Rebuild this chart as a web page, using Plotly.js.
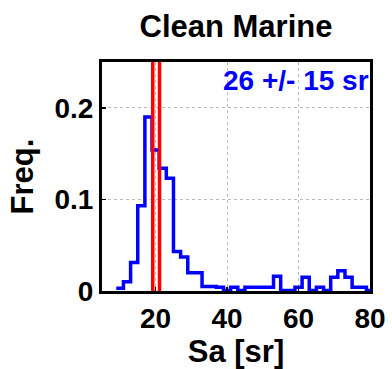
<!DOCTYPE html>
<html>
<head>
<meta charset="utf-8">
<script src="https://cdn.plot.ly/plotly-3.0.1.min.js"></script>
<style>html,body{margin:0;padding:0;background:#fff;}#chart{width:392px;height:369px;}</style>
</head>
<body>
<div id="chart"></div>
<script>
// Histogram bin left edges (Sa, sr) and frequencies
const binLeft = [9, 11, 13, 15, 17, 19, 21, 23, 25, 27, 29, 31, 33, 35, 37, 39, 41, 43, 45, 47, 49, 51, 53, 55, 57, 59, 61, 63, 65, 67, 69, 71, 73, 75, 77, 79];
const freq    = [0.003, 0.010, 0.031, 0.093, 0.190, 0.154, 0.134, 0.123, 0.043, 0.037, 0.020, 0.020, 0.005, 0.005, 0.004, 0.0005, 0.004, 0.0005, 0.004, 0.004, 0.004, 0.004, 0.016, 0.0005, 0.0005, 0.004, 0.015, 0.0005, 0.004, 0.0005, 0.015, 0.022, 0.015, 0.004, 0.004, 0.0005];
const redLines = [19.2, 21.1];
const xTicks = [20, 40, 60, 80];
const yTicks = [0, 0.1, 0.2];
const yTickText = ["0", "0.1", "0.2"];
const statText = "26 +/- 15 sr";
const titleText = "Clean Marine";
const xTitle = "Sa [sr]";
const yTitle = "Freq.";

const font = "Liberation Sans, Arial, sans-serif";

const stepX = binLeft.concat([binLeft[binLeft.length - 1] + 2]);
const stepY = freq.concat([freq[freq.length - 1]]);

const traces = [
  { x: stepX, y: stepY, mode: 'lines', line: { shape: 'hv', color: 'rgb(0,0,255)', width: 3.5 }, hoverinfo: 'skip' }
];
redLines.forEach(v => {
  traces.push({ x: [v, v], y: [0, 0.25], mode: 'lines', line: { color: 'rgb(255,0,0)', width: 3.5 }, hoverinfo: 'skip' });
});

const axisCommon = {
  showline: true, mirror: true, linecolor: '#000', linewidth: 3,
  ticks: 'inside', ticklen: 4, tickwidth: 1.5, tickcolor: '#000',
  showgrid: true, gridcolor: '#bbbbbb', gridwidth: 1, griddash: 'dot',
  zeroline: false,
  tickfont: { family: font, size: 28, color: '#000', weight: 'bold' }
};

const layout = {
  width: 392, height: 369,
  margin: { l: 102, r: 22, t: 62, b: 78 },
  paper_bgcolor: '#fff', plot_bgcolor: '#fff',
  showlegend: false,
  title: { text: '<b>' + titleText + '</b>', font: { family: font, size: 31, color: '#000' }, x: 0.5, xref: 'paper', xanchor: 'center', y: 0.93, yanchor: 'middle' },
  xaxis: Object.assign({}, axisCommon, {
    range: [5, 80], tickvals: xTicks, ticktext: xTicks.map(String),
    title: { text: '<b>' + xTitle + '</b>', font: { family: font, size: 31, color: '#000' }, standoff: 4 }
  }),
  yaxis: Object.assign({}, axisCommon, {
    range: [0, 0.25], tickvals: yTicks, ticktext: yTickText,
    title: { text: '<b>' + yTitle + '</b>', font: { family: font, size: 31, color: '#000' }, standoff: 12 }
  }),
  annotations: [{
    xref: 'paper', yref: 'paper', x: 1.005, y: 1.0, xanchor: 'right', yanchor: 'top', yshift: -1,
    text: '<b>' + statText + '</b>', showarrow: false,
    font: { family: font, size: 28, color: 'rgb(0,0,255)' }
  }]
};

Plotly.newPlot('chart', traces, layout, { staticPlot: true, displayModeBar: false });
</script>
</body>
</html>
